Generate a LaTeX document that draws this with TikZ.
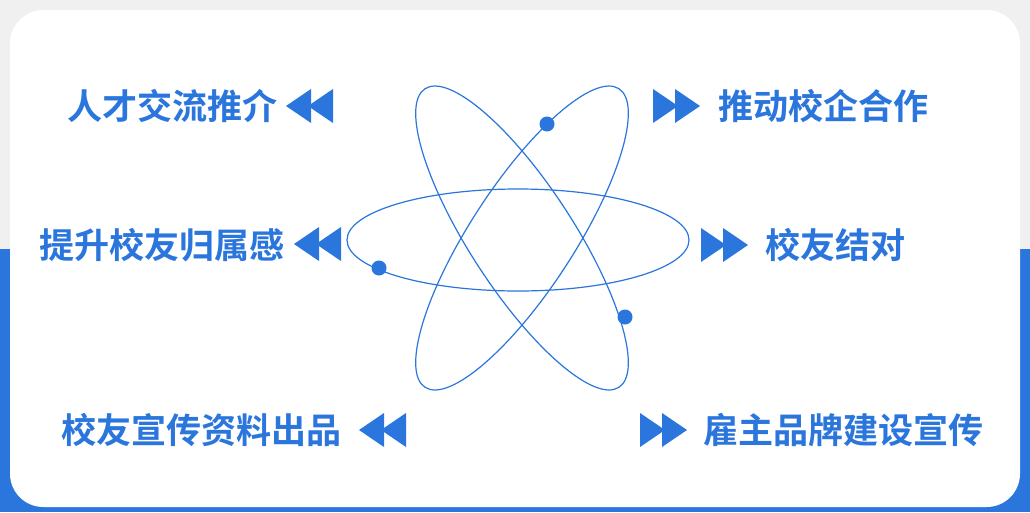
\documentclass[tikz,border=0pt]{standalone}
\usepackage{fontspec}
\newfontfamily\cjk{Noto Sans CJK SC Bold}
\definecolor{mainblue}{HTML}{2A76DD}
\tikzset{
  label/.style={font=\cjk\fontsize{26.3}{26.3}\selectfont, text=mainblue, inner sep=0pt},
  orbit/.style={draw=mainblue, line width=0.9pt},
  dot/.style={fill=mainblue},
  pics/leftarr/.style={code={
    \fill[mainblue] (0,0) -- (25,17) -- (25,-17) -- cycle;
    \fill[mainblue] (22,0) -- (47,17) -- (47,-17) -- cycle;}},
  pics/rightarr/.style={code={
    \fill[mainblue] (0,17) -- (25,0) -- (0,-17) -- cycle;
    \fill[mainblue] (22,17) -- (47,0) -- (22,-17) -- cycle;}}
}
\begin{document}
\begin{tikzpicture}[x=0.75pt,y=0.75pt]
\useasboundingbox (0,0) rectangle (1030,512);
\fill[black!6] (0,0) rectangle (1030,512);
\fill[mainblue] (0,0) rectangle (1030,263);
\fill[white, rounded corners=25] (10,5) rectangle (1020,502);

% orbits
\draw[orbit] (518,272) ellipse [x radius=171, y radius=51];
\draw[orbit, rotate around={57:(522,274)}] (522,274) ellipse [x radius=178, y radius=52];
\draw[orbit, rotate around={-57:(522,274)}] (522,274) ellipse [x radius=178, y radius=52];
\fill[dot] (547,388) circle (7.5);
\fill[dot] (379,244) circle (7.5);
\fill[dot] (625,195) circle (7.5);

% labels
\node[label, anchor=east] (talent) at (278,406) {人才交流推介};
\node[label, anchor=west] (coop) at (718,406) {推动校企合作};
\node[label, anchor=east] (belong) at (285,267) {提升校友归属感};
\node[label, anchor=west] (pair) at (765,267) {校友结对};
\node[label, anchor=east] (publish) at (342,82) {校友宣传资料出品};
\node[label, anchor=west] (brand) at (703,82) {雇主品牌建设宣传};

% arrows
\pic at (286,406) {leftarr};
\pic at (294,268) {leftarr};
\pic at (359,82) {leftarr};
\pic at (653,406) {rightarr};
\pic at (701,267) {rightarr};
\pic at (640,82) {rightarr};
\end{tikzpicture}
\end{document}
